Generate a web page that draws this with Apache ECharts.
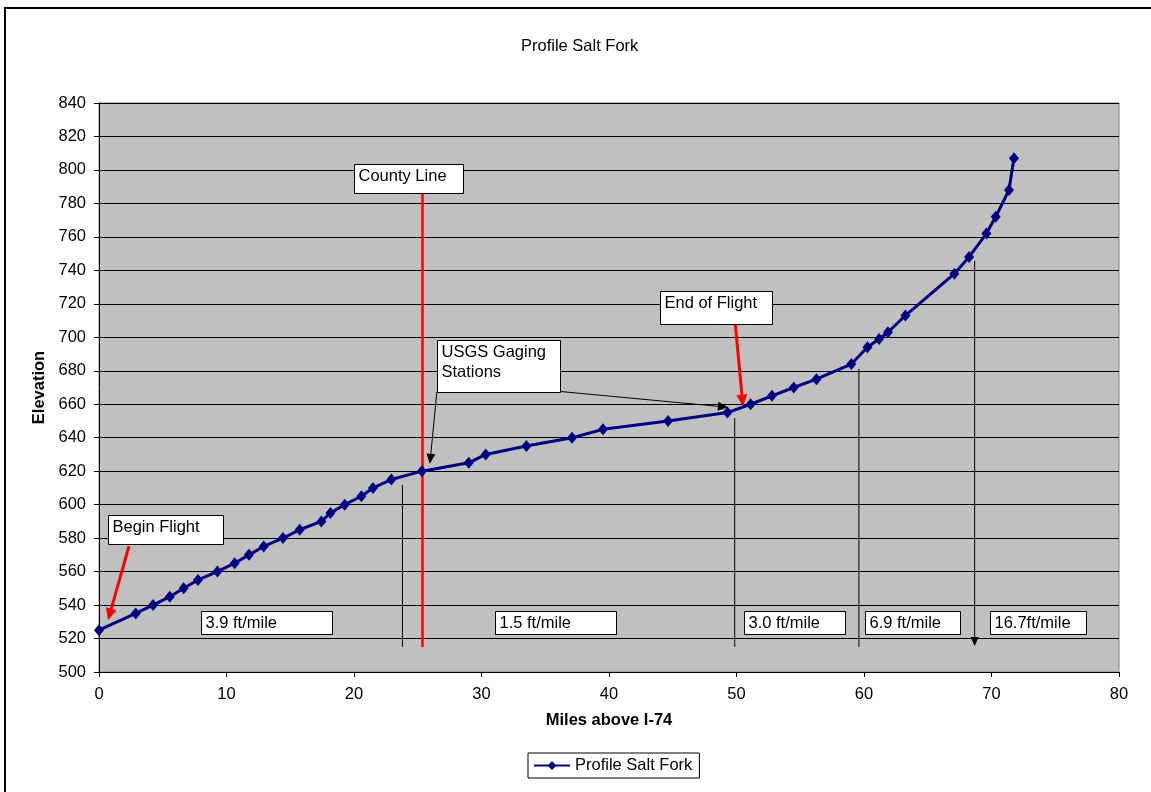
<!DOCTYPE html>
<html><head><meta charset="utf-8">
<script src="https://cdn.jsdelivr.net/npm/echarts@6/dist/echarts.min.js"></script>
<style>html,body{margin:0;padding:0;background:#fff}#c{width:1151px;height:792px}</style>
</head><body><div id="c"></div>
<script>
// ---- data ----
const miles = [0, 2.88, 4.24, 5.55, 6.64, 7.76, 9.29, 10.64, 11.76, 12.92, 14.43, 15.74, 17.44, 18.15, 19.27, 20.58, 21.49, 22.93, 25.33, 29.0, 30.33, 33.52, 37.1, 39.53, 44.63, 49.29, 51.11, 52.78, 54.49, 56.27, 59.01, 60.27, 61.18, 61.88, 63.25, 67.09, 68.24, 69.6, 70.33, 71.37, 71.76];
const elevation = [525, 535, 540, 545, 550, 555, 560, 565, 570, 575, 580, 585, 590, 595, 600, 605, 610, 615, 620, 625, 630, 635, 640, 645, 650, 655, 660, 665, 670, 675, 684, 694, 699, 703, 713, 738, 748, 762, 772, 788, 807];
const seriesName = 'Profile Salt Fork';
const chartTitle = 'Profile Salt Fork';
const xAxisName = 'Miles above I-74';
const yAxisName = 'Elevation';

// ---- annotations (data coordinates) ----
const segments = [
  {from:[23.8,611.8], to:[23.8,515], color:'#000', width:1},
  {from:[49.86,651.8], to:[49.86,515], color:'#000', width:1},
  {from:[59.6,681], to:[59.6,515], color:'#000', width:1},
  {from:[68.68,745.7], to:[68.68,515.5], color:'#000', width:1, head:[9,8]},
  {from:[25.37,786], to:[25.37,515], color:'#ff0000', width:2.5},
  {from:[2.35,575.2], to:[0.71,530.9], color:'#ff0000', width:3, head:[12,11]},
  {from:[49.91,707.5], to:[50.51,658.6], color:'#ff0000', width:3, head:[12,11]},
  {from:[26.5,667.4], to:[25.95,624.4], color:'#000', width:1, head:[10,9]},
  {from:[36.2,667.6], to:[49.33,658.2], color:'#000', width:1, head:[10,9]}
];
const boxes = [
  {at:[19.98,803.3], w:109, h:29, text:'County Line'},
  {at:[26.54,698.1], w:123, h:52, text:'USGS Gaging\nStations'},
  {at:[43.98,727.4], w:112, h:33, text:'End of Flight'},
  {at:[0.74,594.0], w:115, h:29, text:'Begin Flight'},
  {at:[7.98,536.6], w:131, h:23, text:'3.9 ft/mile'},
  {at:[31.04,536.6], w:121, h:23, text:'1.5 ft/mile'},
  {at:[50.59,536.6], w:101, h:23, text:'3.0 ft/mile'},
  {at:[60.1,536.6], w:95, h:23, text:'6.9 ft/mile'},
  {at:[69.88,536.6], w:96, h:23, text:'16.7ft/mile'}
];

const FONT = '"Liberation Sans", Arial, sans-serif';
const FS = 16.5;
const chart = echarts.init(document.getElementById('c'), null, {renderer:'canvas'});
const option = {
  animation: false,
  backgroundColor: '#fff',
  title: {text: chartTitle, left: 521, top: 38, padding: 0,
    textStyle: {fontSize: FS, fontWeight: 'normal', color: '#000', fontFamily: FONT}},
  legend: {
    data: [seriesName], left: 528, top: 753, padding: [4, 7, 4, 5],
    borderColor: '#000', borderWidth: 1, itemWidth: 36, itemHeight: 11, itemGap: 5,
    textStyle: {fontSize: FS, color: '#000', fontFamily: FONT}
  },
  grid: {left: 99, top: 103, width: 1020, height: 569, show: true,
    backgroundColor: '#C0C0C0', borderColor: '#808080', borderWidth: 1,
    containLabel: false, outerBoundsMode: 'none'},
  xAxis: {
    type: 'value', min: 0, max: 80, interval: 10,
    name: xAxisName, nameLocation: 'middle', nameGap: 40,
    nameTextStyle: {fontSize: FS, fontWeight: 'bold', color: '#000', fontFamily: FONT},
    axisLine: {show: true, lineStyle: {color: '#000', width: 1}},
    axisTick: {show: true, inside: false, length: 5, lineStyle: {color: '#000'}},
    axisLabel: {fontSize: FS, color: '#000', margin: 14, fontFamily: FONT},
    splitLine: {show: false}
  },
  yAxis: {
    type: 'value', min: 500, max: 840, interval: 20,
    name: yAxisName, nameLocation: 'middle', nameGap: 50, nameRotate: 90,
    nameTextStyle: {fontSize: FS, fontWeight: 'bold', color: '#000', fontFamily: FONT},
    axisLine: {show: true, lineStyle: {color: '#000', width: 1}},
    axisTick: {show: true, inside: false, length: 5, lineStyle: {color: '#000'}},
    axisLabel: {fontSize: FS, color: '#000', margin: 13, fontFamily: FONT},
    splitLine: {show: true, lineStyle: {color: '#000', width: 1}}
  },
  series: [{
    name: seriesName, type: 'line',
    data: miles.map((m, i) => [m, elevation[i]]),
    symbol: 'diamond', symbolSize: [10, 12], showAllSymbol: true,
    lineStyle: {color: '#000080', width: 3},
    itemStyle: {color: '#000080'},
    z: 3
  }]
};
chart.setOption(option);

function px(p) { return chart.convertToPixel({gridIndex: 0}, p); }
const g = [];
g.push({type: 'rect', silent: true, z: 10, shape: {x: 5, y: 8, width: 1300, height: 1000},
  style: {fill: 'none', stroke: '#000', lineWidth: 2}});
segments.forEach(s => {
  const a = px(s.from), b = px(s.to);
  let end = b;
  if (s.head) {
    const dx = b[0] - a[0], dy = b[1] - a[1], len = Math.hypot(dx, dy);
    const ux = dx / len, uy = dy / len, L = s.head[0], W = s.head[1] / 2;
    const bx = b[0] - ux * L, by = b[1] - uy * L;
    g.push({type: 'polygon', silent: true, z: 2,
      shape: {points: [[b[0], b[1]], [bx - uy * W, by + ux * W], [bx + uy * W, by - ux * W]]},
      style: {fill: s.color}});
    end = [bx + ux, by + uy];
  }
  g.push({type: 'line', silent: true, z: 2,
    shape: {x1: a[0], y1: a[1], x2: end[0], y2: end[1]},
    style: {stroke: s.color, lineWidth: s.width}});
});
boxes.forEach(b => {
  const p = px(b.at);
  const x = Math.round(p[0]) + 0.5, y = Math.round(p[1]) + 0.5;
  g.push({type: 'rect', silent: true, z: 5, shape: {x: x, y: y, width: b.w, height: b.h},
    style: {fill: '#fff', stroke: '#000', lineWidth: 1}});
  g.push({type: 'text', silent: true, z: 6, x: x + 4, y: y + 2,
    style: {text: b.text, fill: '#000', font: FS + 'px ' + FONT, verticalAlign: 'top', align: 'left', lineHeight: 20}});
});
chart.setOption({graphic: g});
</script></body></html>
